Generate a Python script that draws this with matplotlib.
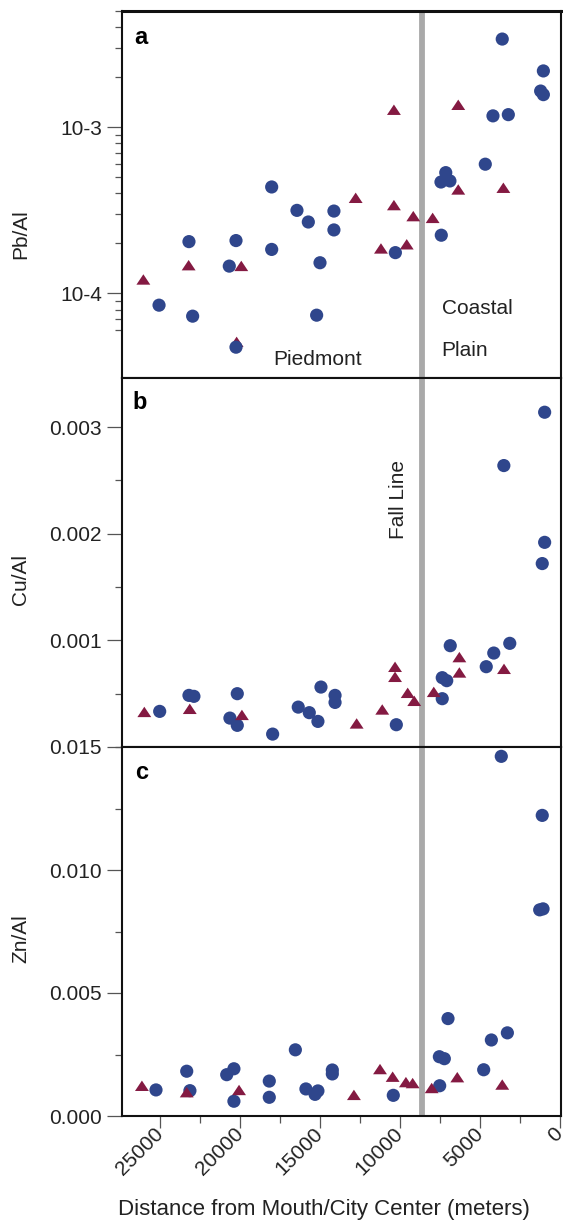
import matplotlib
matplotlib.use("Agg")
import matplotlib.pyplot as plt
from matplotlib.ticker import FixedLocator, FixedFormatter, NullFormatter, MultipleLocator
from matplotlib.path import Path

plt.rcParams['font.family'] = ['Liberation Sans', 'DejaVu Sans']

# ---------------- data ----------------
pb_circle_dist = [25060, 23190, 22960, 20670, 20250, 20250, 18020, 18020, 16440, 15730,
                  15210, 15000, 14130, 14130, 10290, 7420, 7440, 7140, 6880, 4670,
                  4190, 3610, 3230, 1210, 1040, 1040]
pb_circle = [8.5e-5, 2.05e-4, 7.3e-5, 1.46e-4, 2.08e-4, 4.75e-5, 4.37e-4, 1.84e-4, 3.16e-4, 2.69e-4,
             7.4e-5, 1.53e-4, 3.13e-4, 2.41e-4, 1.76e-4, 2.24e-4, 4.68e-4, 5.33e-4, 4.75e-4, 5.99e-4,
             1.17e-3, 3.39e-3, 1.19e-3, 1.65e-3, 2.18e-3, 1.57e-3]
pb_tri_dist = [26040, 23210, 19920, 20210, 12770, 10380, 10380, 9170, 7960, 11190, 9580, 6360, 6360, 3540]
pb_tri = [1.21e-4, 1.475e-4, 1.46e-4, 5.1e-5, 3.75e-4, 3.39e-4, 1.27e-3, 2.91e-4, 2.84e-4, 1.86e-4,
          1.97e-4, 4.21e-4, 1.36e-3, 4.31e-4]

cu_circle_dist = [25020, 23190, 22880, 20170, 20630, 20170, 17960, 16360, 15670, 15130,
                  14940, 14060, 14060, 10230, 7360, 7360, 7080, 6860, 4610, 4140,
                  3140, 3510, 960, 960, 1110]
cu_circle = [3.34e-4, 4.84e-4, 4.75e-4, 5.0e-4, 2.71e-4, 2.03e-4, 1.21e-4, 3.74e-4, 3.22e-4, 2.40e-4,
             5.62e-4, 4.84e-4, 4.18e-4, 2.09e-4, 4.53e-4, 6.50e-4, 6.22e-4, 9.50e-4, 7.53e-4, 8.81e-4,
             9.72e-4, 2.639e-3, 3.139e-3, 1.919e-3, 1.72e-3]
cu_tri_dist = [25980, 23140, 19880, 12710, 11110, 10310, 10310, 9520, 9110, 7890, 6290, 6290, 3500]
cu_tri = [3.27e-4, 3.56e-4, 2.99e-4, 2.19e-4, 3.50e-4, 7.50e-4, 6.56e-4, 5.06e-4, 4.31e-4, 5.15e-4,
          8.41e-4, 6.97e-4, 7.31e-4]

zn_circle_dist = [25250, 23330, 23130, 20830, 20380, 20380, 18170, 18170, 16540, 15880,
                  15310, 15130, 14230, 14230, 10420, 7520, 7540, 7230, 7000, 4770,
                  4290, 3290, 3670, 1110, 1270, 1060]
zn_circle = [1.06e-3, 1.82e-3, 1.03e-3, 1.68e-3, 1.92e-3, 6.0e-4, 1.42e-3, 7.6e-4, 2.69e-3, 1.10e-3,
             8.8e-4, 1.02e-3, 1.87e-3, 1.71e-3, 8.4e-4, 1.23e-3, 2.41e-3, 2.33e-3, 3.96e-3, 1.88e-3,
             3.09e-3, 3.38e-3, 1.462e-2, 1.222e-2, 8.38e-3, 8.42e-3]
zn_tri_dist = [26130, 23330, 20060, 12880, 11250, 10460, 9630, 9210, 8020, 6420, 3610]
zn_tri = [1.22e-3, 9.6e-4, 1.05e-3, 8.5e-4, 1.90e-3, 1.59e-3, 1.37e-3, 1.33e-3, 1.13e-3, 1.57e-3, 1.27e-3]

fall_line = 8630
x_ticks = [25000, 20000, 15000, 10000, 5000, 0]
x_ticklabels = ['25000', '20000', '15000', '10000', '5000', '0']

# ---------------- style ----------------
BLUE = '#2f468c'
RED = '#841a42'
GREY = '#a9a9a9'
FS = 15
tri_marker = Path([(-1, -0.72), (1, -0.72), (0, 0.78), (-1, -0.72)],
                  [Path.MOVETO, Path.LINETO, Path.LINETO, Path.CLOSEPOLY])

W, H = 563, 1221
fig = plt.figure(figsize=(W / 100, H / 100), dpi=100)
left = 122 / W
width = (561 - 122) / W

def add_ax(top_px, bot_px):
    return fig.add_axes([left, 1 - bot_px / H, width, (bot_px - top_px) / H])

axa = add_ax(11, 378)
axb = add_ax(378, 747)
axc = add_ax(747, 1116)

for ax in (axa, axb, axc):
    ax.set_xlim(27375, -62)
    ax.axvline(fall_line, color=GREY, lw=4.2, zorder=1)
    for s in ax.spines.values():
        s.set_linewidth(1.5)
        s.set_color('#111111')
        s.set_zorder(5)
    ax.tick_params(axis='y', which='major', direction='out', length=10.5, width=0.9,
                   color='#555555', labelsize=FS, pad=4, labelcolor='#222222')
    ax.tick_params(axis='y', which='minor', direction='out', length=5.3, width=0.9, color='#555555')
    ax.tick_params(axis='x', which='both', bottom=False, labelbottom=False)

axa.spines['top'].set_linewidth(2.2)

def scatter(ax, xc, yc, xt, yt, circles_top):
    zc, zt = (4, 3) if circles_top else (3, 4)
    ax.scatter(xc, yc, s=90, marker='o', color=BLUE, edgecolors='none', zorder=zc, clip_on=False)
    ax.scatter(xt, yt, s=100, marker=tri_marker, color=RED, edgecolors='none', zorder=zt, clip_on=False)

# ---- panel a ----
axa.set_yscale('log')
axa.set_ylim(3.1e-5, 5.0e-3)
axa.yaxis.set_major_locator(FixedLocator([1e-4, 1e-3]))
axa.yaxis.set_major_formatter(FixedFormatter(['10-4', '10-3']))
minor_a = [6e-5, 7e-5, 8e-5, 9e-5] + [k * 1e-4 for k in range(2, 10)] + [k * 1e-3 for k in range(2, 6)]
axa.yaxis.set_minor_locator(FixedLocator(minor_a))
axa.yaxis.set_minor_formatter(NullFormatter())
scatter(axa, pb_circle_dist, pb_circle, pb_tri_dist, pb_tri, True)

# ---- panel b ----
axb.set_ylim(0, 0.00346)
axb.yaxis.set_major_locator(FixedLocator([0.001, 0.002, 0.003]))
axb.yaxis.set_major_formatter(FixedFormatter(['0.001', '0.002', '0.003']))
axb.yaxis.set_minor_locator(FixedLocator([0.0, 0.0005, 0.0015, 0.0025]))
scatter(axb, cu_circle_dist, cu_circle, cu_tri_dist, cu_tri, False)

# ---- panel c ----
axc.set_ylim(0, 0.015)
axc.yaxis.set_major_locator(FixedLocator([0.0, 0.005, 0.010, 0.015]))
axc.yaxis.set_major_formatter(FixedFormatter(['0.000', '0.005', '0.010', '0.015']))
axc.yaxis.set_minor_locator(FixedLocator([0.0025, 0.0075, 0.0125]))
scatter(axc, zn_circle_dist, zn_circle, zn_tri_dist, zn_tri, False)

axc.xaxis.set_major_locator(FixedLocator(x_ticks))
axc.xaxis.set_minor_locator(MultipleLocator(2500))
axc.tick_params(axis='x', which='major', bottom=True, labelbottom=True, direction='out',
                length=8.5, width=0.9, color='#555555', labelsize=FS, pad=2, labelcolor='#222222')
axc.tick_params(axis='x', which='minor', bottom=True, direction='out', length=5.3, width=0.9,
                color='#555555')
axc.set_xticklabels(x_ticklabels, rotation=45, ha='right', va='center', rotation_mode='anchor')

# ---- texts ----
axa.text(0.027, 0.910, 'a', transform=axa.transAxes, fontsize=17, fontweight='bold', va='baseline')
axb.text(0.024, 0.916, 'b', transform=axb.transAxes, fontsize=17, fontweight='bold', va='baseline')
axc.text(0.030, 0.913, 'c', transform=axc.transAxes, fontsize=17, fontweight='bold', va='baseline')

axa.text(0.345, 0.035, 'Piedmont', transform=axa.transAxes, fontsize=FS, va='baseline', color='#222222')
axa.text(0.728, 0.174, 'Coastal', transform=axa.transAxes, fontsize=FS, va='baseline', color='#222222')
axa.text(0.728, 0.060, 'Plain', transform=axa.transAxes, fontsize=FS, va='baseline', color='#222222')
axb.text(10100, 0.00232, 'Fall Line', rotation=90, ha='center', va='center', fontsize=FS, color='#222222')

axa.text(-0.231, 0.392, 'Pb/Al', transform=axa.transAxes, rotation=90, ha='center', va='center', fontsize=FS, color='#222222')
axb.text(-0.231, 0.453, 'Cu/Al', transform=axb.transAxes, rotation=90, ha='center', va='center', fontsize=FS, color='#222222')
axc.text(-0.231, 0.482, 'Zn/Al', transform=axc.transAxes, rotation=90, ha='center', va='center', fontsize=FS, color='#222222')

fig.text(323.5 / W, 1 - 1209 / H, 'Distance from Mouth/City Center (meters)', ha='center', va='center',
         fontsize=16, color='#222222')

fig.savefig('out.png', dpi=100, facecolor='white')
